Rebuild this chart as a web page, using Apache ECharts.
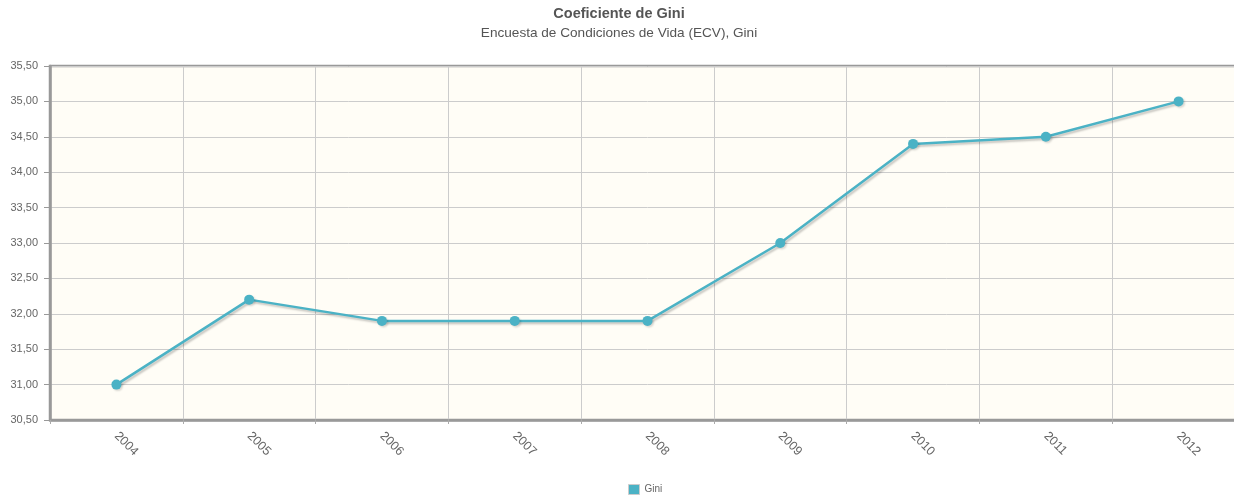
<!DOCTYPE html>
<html>
<head>
<meta charset="utf-8">
<script src="https://cdn.jsdelivr.net/npm/echarts@6/dist/echarts.min.js"></script>
<style>html,body{margin:0;padding:0;background:#fff;overflow:hidden;width:1234px;height:495px;}#c{width:1250px;height:495px;}</style>
</head>
<body>
<div id="c"></div>
<script>
const categories = ['2004','2005','2006','2007','2008','2009','2010','2011','2012'];
const giniValues = [31.0, 32.2, 31.9, 31.9, 31.9, 33.0, 34.4, 34.5, 35.0];
const seriesName = 'Gini';
const titleText = 'Coeficiente de Gini';
const subtitleText = 'Encuesta de Condiciones de Vida (ECV), Gini';

const chart = echarts.init(document.getElementById('c'), null, {renderer: 'canvas'});
const lineColor = '#4bb2c5';
chart.setOption({
  animation: false,
  backgroundColor: '#ffffff',
  title: {
    text: titleText,
    subtext: subtitleText,
    left: 614,
    textAlign: 'center',
    top: 1,
    padding: 5,
    itemGap: 5,
    textStyle: {fontFamily: 'Arial, Liberation Sans, sans-serif', fontSize: 14.5, fontWeight: 'bold', color: '#555555'},
    subtextStyle: {fontFamily: 'Arial, Liberation Sans, sans-serif', fontSize: 13.6, color: '#555555'}
  },
  legend: {
    top: 479,
    left: 623,
    icon: 'rect',
    itemWidth: 11,
    itemHeight: 10,
    itemGap: 4,
    data: [{name: seriesName, itemStyle: {color: lineColor, borderColor: '#cccccc', borderWidth: 1}}],
    textStyle: {fontFamily: 'Arial, Liberation Sans, sans-serif', fontSize: 10, color: '#666666'}
  },
  grid: {
    left: 50, top: 66, width: 1195, height: 354,
    show: true,
    backgroundColor: '#fffdf6',
    borderColor: '#999999',
    borderWidth: 2.5
  },
  xAxis: {
    type: 'category',
    data: categories,
    boundaryGap: true,
    axisLine: {show: true, lineStyle: {color: '#999999', width: 2.5}},
    axisTick: {show: true, length: 4, lineStyle: {color: '#aaaaaa'}},
    splitLine: {show: true, lineStyle: {color: '#cccccc', width: 1}},
    axisLabel: {
      rotate: -45,
      margin: 14,
      fontFamily: 'Arial, Liberation Sans, sans-serif',
      fontSize: 12.5,
      color: '#666666'
    }
  },
  yAxis: {
    type: 'value',
    min: 30.5,
    max: 35.5,
    interval: 0.5,
    axisLine: {show: true, lineStyle: {color: '#999999', width: 2.5}},
    axisTick: {show: true, length: 6, lineStyle: {color: '#999999'}},
    splitLine: {show: true, lineStyle: {color: '#cccccc', width: 1}},
    axisLabel: {
      margin: 12,
      fontFamily: 'Arial, Liberation Sans, sans-serif',
      fontSize: 11,
      color: '#666666',
      formatter: v => v.toFixed(2).replace('.', ',')
    }
  },
  series: [{
    name: seriesName,
    type: 'line',
    data: giniValues,
    symbol: 'circle',
    symbolSize: 10,
    itemStyle: {color: lineColor, shadowColor: 'rgba(0,0,0,0.15)', shadowOffsetX: 1.5, shadowOffsetY: 1.5, shadowBlur: 2},
    lineStyle: {color: lineColor, width: 2.5, shadowColor: 'rgba(0,0,0,0.22)', shadowOffsetX: 1.5, shadowOffsetY: 2, shadowBlur: 2}
  }]
});
</script>
</body>
</html>
